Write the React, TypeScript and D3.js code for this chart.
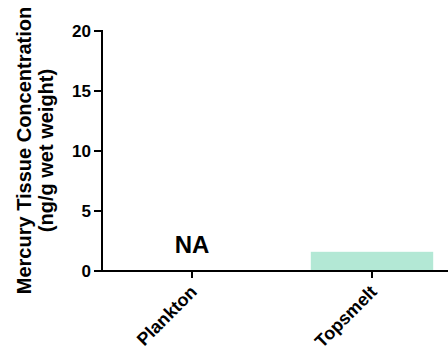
import React from "react";
import * as d3 from "d3";

const categories = ["Plankton", "Topsmelt"];
const values: (number | null)[] = [null, 1.6];
const yTicks = [0, 5, 10, 15, 20];
const naLabel = "NA";
const yLabelLines = ["Mercury Tissue Concentration", "(ng/g wet weight)"];

const W = 448;
const H = 354;
const FONT = "'Liberation Sans', Arial, sans-serif";

export default function App() {
  const x0 = 102;
  const y = d3.scaleLinear().domain([0, 20]).range([271, 31]);
  const x = d3.scalePoint<string>().domain(categories).range([x0, x0 + 360]).padding(0.5);
  const step = x.step();
  const barW = step * 0.68;

  return (
    <svg width={W} height={H} style={{ position: "absolute", left: 0, top: 0 }} fontFamily={FONT}>
      <rect width={W} height={H} fill="#fff" />
      {categories.map((c, i) => {
        const v = values[i];
        const cx = x(c)!;
        if (v == null) {
          return (
            <text key={c} x={cx} y={y(0) - 18} textAnchor="middle" fontWeight="bold" fontSize={24} fill="#000">
              {naLabel}
            </text>
          );
        }
        return <rect key={c} x={cx - barW / 2} y={y(v)} width={barW} height={y(0) - y(v)} fill="#b3e8d5" />;
      })}
      {/* y axis */}
      <line x1={x0} x2={x0} y1={y(20) - 1} y2={y(0) + 1} stroke="#000" strokeWidth={2} />
      {yTicks.map((t) => (
        <g key={t}>
          <line x1={x0 - 8} x2={x0} y1={y(t)} y2={y(t)} stroke="#000" strokeWidth={2} />
          <text x={x0 - 11} y={y(t)} dy="0.36em" textAnchor="end" fontWeight="bold" fontSize={17} fill="#000">
            {t}
          </text>
        </g>
      ))}
      {/* x axis */}
      <line x1={x0 - 1} x2={W} y1={y(0)} y2={y(0)} stroke="#000" strokeWidth={2} />
      {categories.map((c) => {
        const cx = x(c)!;
        return (
          <g key={c}>
            <line x1={cx} x2={cx} y1={y(0)} y2={y(0) + 7} stroke="#000" strokeWidth={2} />
            <text
              transform={`translate(${cx + 6},${y(0) + 22}) rotate(-45)`}
              textAnchor="end"
              fontWeight="bold"
              fontSize={18}
              fill="#000"
            >
              {c}
            </text>
          </g>
        );
      })}
      <text transform={`translate(30.5,150.5) rotate(-90)`} textAnchor="middle" fontWeight="bold" fontSize={20} fill="#000">
        <tspan x={0} dy={0}>{yLabelLines[0]}</tspan>
        <tspan x={0} dy={22}>{yLabelLines[1]}</tspan>
      </text>
    </svg>
  );
}
